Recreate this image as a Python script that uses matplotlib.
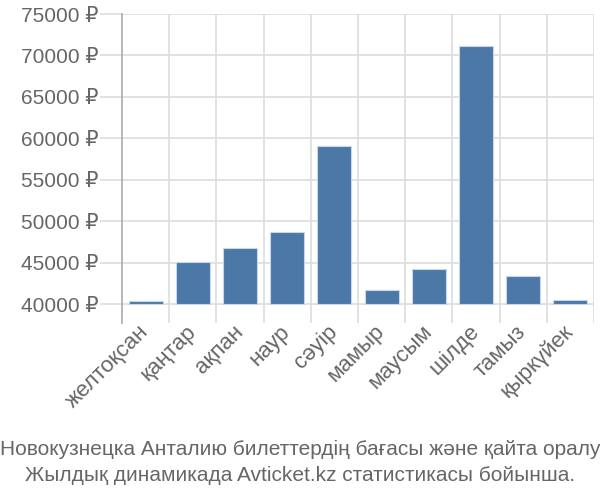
import numpy as np
import matplotlib
matplotlib.use("Agg")
import matplotlib.pyplot as plt

# === Data ===
months = ["желтоқсан", "қаңтар", "ақпан", "наур", "сәуір", "мамыр",
          "маусым", "шілде", "тамыз", "қыркүйек"]
prices = [40330, 45070, 46790, 48650, 59060, 41730, 44300, 71160, 43340, 40450]
yticks = [40000, 45000, 50000, 55000, 60000, 65000, 70000, 75000]
caption = ("Новокузнецка Анталию билеттердің бағасы және қайта оралу\n"
           "Жылдық динамикада Avticket.kz статистикасы бойынша.")

base = 40000
text_color = "#666666"
grid_color = "#dddddd"

plt.rcParams["font.family"] = ["Liberation Sans", "DejaVu Sans"]

fig = plt.figure(figsize=(6, 5), dpi=100)
ax = fig.add_axes([122 / 600, 1 - 323 / 500, 472 / 600, 309 / 500])

x = np.arange(len(months))
heights = [p - base for p in prices]
ax.bar(x, heights, bottom=base, width=0.72, color="#4c78a8",
       edgecolor="#c7d6e8", linewidth=0.8, zorder=3)

ax.set_xlim(-0.5, len(months) - 0.5)
ax.set_ylim(37730, 75000)

# horizontal grid + long ticks on the left
ax.set_yticks(yticks)
ax.set_yticklabels([f"{v} ₽" for v in yticks], fontsize=15, color=text_color)
ax.tick_params(axis="y", length=16, width=1.2, color=grid_color, pad=1)
for v in yticks:
    ax.axhline(v, color=grid_color, lw=1.2, zorder=1)

# vertical grid at category boundaries
for b in np.arange(0.5, len(months) - 0.5):
    ax.axvline(b, color=grid_color, lw=1.2, zorder=1)
ax.axvline(len(months) - 0.5, color=grid_color, lw=1.2, zorder=1)

ax.set_xticks(x)
ax.set_xticklabels(months, rotation=45, ha="right", va="center",
                   rotation_mode="anchor", fontsize=16, color=text_color)
ax.tick_params(axis="x", length=0, pad=4)

for side in ["top", "right", "bottom"]:
    ax.spines[side].set_visible(False)
ax.spines["left"].set_color("#aaaaaa")
ax.spines["left"].set_linewidth(1.2)

fig.text(0.5, 0.03, caption, ha="center", va="bottom", fontsize=15,
         color=text_color, linespacing=1.45)

fig.savefig("out.png", dpi=100)
